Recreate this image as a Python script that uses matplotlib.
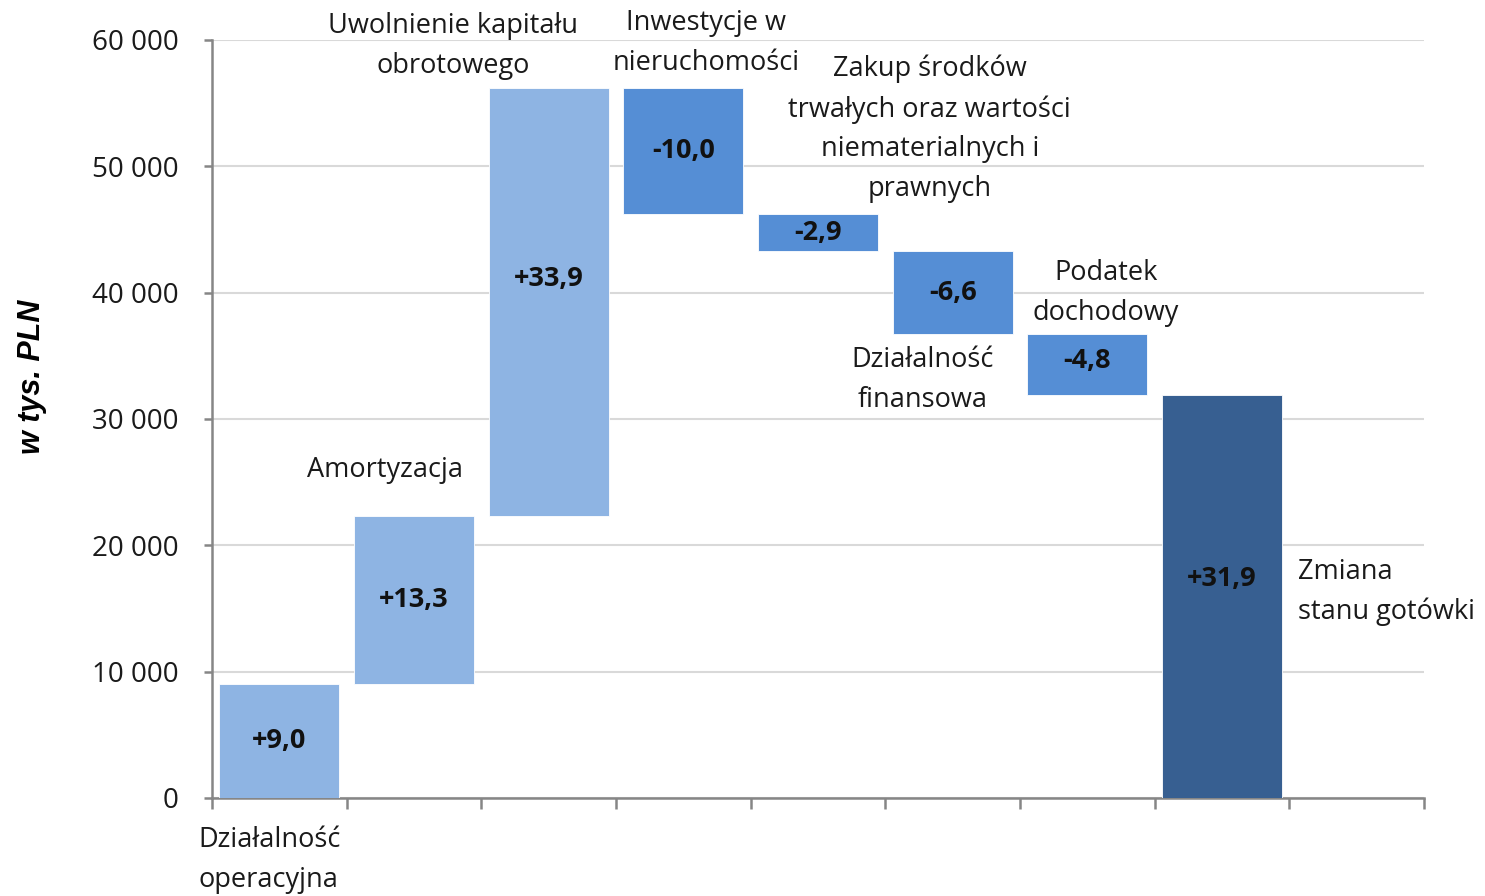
import matplotlib.pyplot as plt
import numpy as np

# values in mln PLN (axis in tys. PLN)
categories = ["Działalność\noperacyjna", "Amortyzacja", "Uwolnienie kapitału\nobrotowego",
              "Inwestycje w\nnieruchomości",
              "Zakup środków\ntrwałych oraz wartości\nniematerialnych i\nprawnych",
              "Działalność\nfinansowa", "Podatek\ndochodowy", "Zmiana\nstanu gotówki", ""]
values = [9.0, 13.3, 33.9, -10.0, -2.9, -6.6, -4.8, 31.9]
value_labels = ["+9,0", "+13,3", "+33,9", "-10,0", "-2,9", "-6,6", "-4,8", "+31,9"]
y_ticks = [0, 10000, 20000, 30000, 40000, 50000, 60000]
y_tick_labels = ["0", "10 000", "20 000", "30 000", "40 000", "50 000", "60 000"]

LIGHT = "#8EB4E3"
MID = "#558ED5"
DARK = "#375F91"
FONT = "Open Sans"
FS = 19.5

vals = np.array(values) * 1000
n = len(vals)
cum = np.cumsum(vals[:-1])
bottoms = np.zeros(n)
heights = np.zeros(n)
for i in range(n - 1):
    start = cum[i] - vals[i]
    bottoms[i] = min(start, cum[i])
    heights[i] = abs(vals[i])
bottoms[-1] = 0
heights[-1] = vals[-1]
colors = [LIGHT if v > 0 else MID for v in vals[:-1]] + [DARK]

fig = plt.figure(figsize=(14.85, 8.96), dpi=100)
ax = fig.add_axes([0.1428, 0.1094, 0.8161, 0.846])

x = np.arange(n)
ax.bar(x, heights, bottom=bottoms, width=0.89, color=colors, zorder=3,
       edgecolor="white", linewidth=0.6)

ax.set_xlim(-0.5, len(categories) - 0.5)
ax.set_ylim(0, 60000)
ax.set_yticks(y_ticks)
ax.set_yticklabels(y_tick_labels, fontsize=20, family=FONT, color="#1a1a1a")
ax.set_xticks(np.arange(len(categories) + 1) - 0.5)
ax.set_xticklabels([])
ax.tick_params(axis="x", length=8, width=1.8, color="#868686", direction="out")
ax.tick_params(axis="y", length=6, width=1.8, color="#868686", direction="out", pad=18)
ax.grid(axis="y", color="#D9D9D9", linewidth=1.5, zorder=0)
for s in ["top", "right"]:
    ax.spines[s].set_visible(False)
for s in ["left", "bottom"]:
    ax.spines[s].set_color("#868686")
    ax.spines[s].set_linewidth(1.8)

ax.set_ylabel("w tys. PLN", fontsize=22, family="Liberation Sans", fontweight="bold",
              style="italic")
ax.yaxis.set_label_coords(-0.136, 0.555)

# value labels (bar middles, tall bars nudged)
nudge = [0, 0, 1800, 0, 0, 0, 300, 1400]
for i in range(n):
    ax.text(x[i], bottoms[i] + heights[i] / 2 + nudge[i], value_labels[i], ha="center",
            va="center", fontsize=FS, fontweight="bold", family=FONT, color="#111111",
            zorder=4)

# category labels: (x, y, ha)
placement = [(-0.604, -4900, "left"), (0.785, 25965, "center"), (1.29, 59530, "center"),
             (3.168, 59770, "center"), (4.83, 52960, "center"), (4.78, 33090, "center"),
             (6.14, 39980, "center"), (7.564, 16300, "left")]
for (px, py, ha), lab in zip(placement, categories):
    ax.text(px, py, lab, ha=ha, va="center", multialignment="center" if ha == "center" else "left",
            fontsize=FS, family=FONT, color="#1a1a1a", linespacing=1.56, clip_on=False)

fig.savefig("out.png", dpi=100)
